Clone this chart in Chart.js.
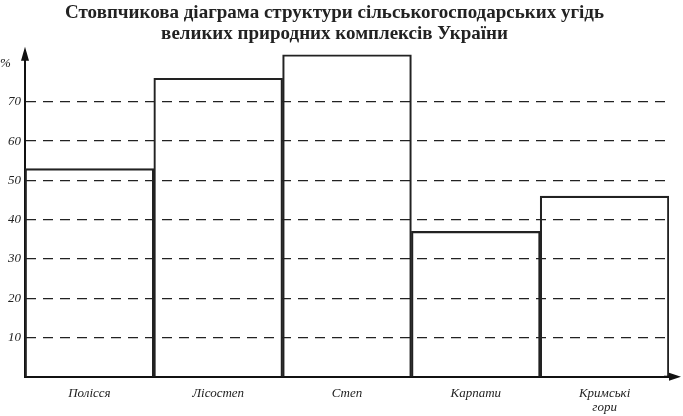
<!DOCTYPE html>
<html>
<head>
<meta charset="utf-8">
<script src="https://cdn.jsdelivr.net/npm/chart.js@4"></script>
<style>
  body { margin: 0; background: #fff; }
  #wrap { width: 683px; height: 416px; }
</style>
</head>
<body>
<div id="wrap"><canvas id="myChart"></canvas></div>
<script>
var categories = ['Полісся', 'Лісостеп', 'Степ', 'Карпати', ['Кримські', 'гори']];
var shares = [53, 76, 82, 37, 46];
var yTicks = [10, 20, 30, 40, 50, 60, 70];

// arrows on both axes and the "%" sign
var axisArrows = {
    id: 'axisArrows',
    afterDraw: function (chart) {
        var ctx = chart.ctx;
        var x0 = chart.scales.x.left;
        var y0 = chart.scales.y.bottom;
        var top = chart.chartArea.top;
        var right = chart.chartArea.right;
        ctx.save();
        ctx.fillStyle = '#111';
        ctx.strokeStyle = '#111';
        ctx.lineWidth = 2;
        ctx.beginPath();
        ctx.moveTo(x0, top - 4); ctx.lineTo(x0 - 4, top + 10); ctx.lineTo(x0 + 4, top + 10); ctx.closePath();
        ctx.fill();
        ctx.beginPath();
        ctx.moveTo(right + 12, y0); ctx.lineTo(right, y0 - 4); ctx.lineTo(right, y0 + 4); ctx.closePath();
        ctx.fill();
        ctx.beginPath();
        ctx.moveTo(right - 5, y0); ctx.lineTo(right + 5, y0);
        ctx.stroke();
        ctx.font = 'italic 13px "Liberation Serif"';
        ctx.textAlign = 'left';
        ctx.fillText('%', 0, top + 16);
        ctx.restore();
    }
};

new Chart(document.getElementById('myChart'), {
    type: 'bar',
    plugins: [axisArrows],
    data: {
        labels: categories,
        datasets: [{
            data: shares,
            backgroundColor: 'rgba(0,0,0,0)',
            borderColor: '#222',
            borderWidth: 1.5,
            borderSkipped: 'bottom',
            categoryPercentage: 1,
            barPercentage: 1
        }]
    },
    options: {
        responsive: true,
        maintainAspectRatio: false,
        animation: false,
        layout: { padding: { left: 0, right: 14, top: 0, bottom: 0 } },
        plugins: {
            legend: { display: false },
            tooltip: { enabled: false },
            title: {
                display: true,
                text: ['Стовпчикова діаграма структури сільськогосподарських угідь', 'великих природних комплексів України'],
                color: '#222',
                font: { family: '"Liberation Serif"', size: 19, weight: 'bold', lineHeight: 1.1 },
                padding: { top: 3, bottom: 6 }
            }
        },
        scales: {
            x: {
                grid: { display: false },
                border: { color: '#111', width: 2 },
                ticks: {
                    color: '#222',
                    padding: 2,
                    font: { family: '"Liberation Serif"', size: 13, style: 'italic', lineHeight: 1.05 }
                }
            },
            y: {
                min: 0,
                max: 83,
                afterFit: function (s) { s.width = 25; },
                afterBuildTicks: function (s) {
                    s.ticks = yTicks.map(function (v) { return { value: v }; });
                },
                grid: { color: '#222', lineWidth: 1.3, drawTicks: false },
                border: { color: '#111', width: 2, dash: [10, 7] },
                ticks: {
                    color: '#222',
                    padding: 4,
                    font: { family: '"Liberation Serif"', size: 13, style: 'italic' }
                }
            }
        }
    }
});
</script>
</body>
</html>
